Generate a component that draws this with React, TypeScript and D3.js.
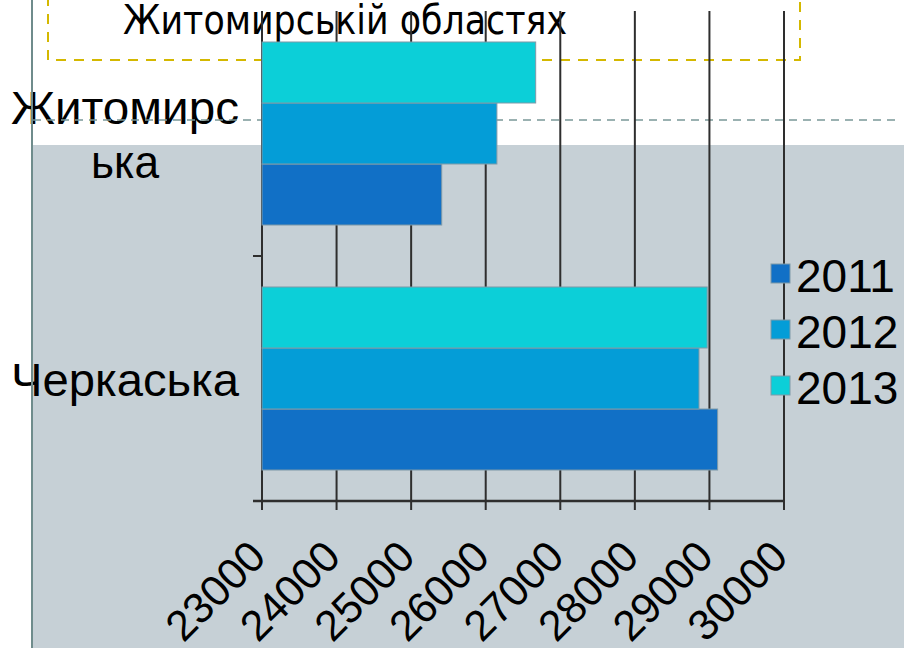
import * as d3 from 'd3';
import React from 'react';

// chart values
const categories = ['Житомирська', 'Черкаська'];
const categoryLines: string[][] = [['Житомирс', 'ька'], ['Черкаська']];
const years = ['2011', '2012', '2013'];
const values2011 = [25410, 29110];
const values2012 = [26150, 28860];
const values2013 = [26670, 28970];
const xTicks = [23000, 24000, 25000, 26000, 27000, 28000, 29000, 30000];
const titleText = 'Житомирській областях';

const colors: Record<string, string> = {
  '2011': '#1170c6',
  '2012': '#049dd7',
  '2013': '#0ccfd8'
};

const W = 904;
const H = 648;

export default function App() {
  const x = d3.scaleLinear().domain([23000, 30000]).range([262, 784]);
  const y = d3.scaleBand().domain(categories).range([11, 501]).padding(0);
  // within a category, 2011 sits at the bottom
  const yInner = d3
    .scaleBand()
    .domain(years.slice().reverse())
    .range([0, y.bandwidth()])
    .paddingInner(0)
    .paddingOuter(0.508);

  const series = [
    { year: '2011', values: values2011 },
    { year: '2012', values: values2012 },
    { year: '2013', values: values2013 }
  ];

  const sans = '"Liberation Sans", Arial, sans-serif';
  const titleFont = '"DejaVu Sans Condensed", "DejaVu Sans", Tahoma, sans-serif';
  const axisY = y.range()[1];
  const topY = y.range()[0];

  return (
    <svg
      width={W}
      height={H}
      style={{ position: 'absolute', left: 0, top: 0, display: 'block' }}>
      <rect x={0} y={0} width={W} height={H} fill="#ffffff"/>
      <rect x={33} y={145} width={W - 33} height={H - 145} fill="#c6d0d6"/>

      {/* title box */}
      <path
        d="M48,-4 L48,60 L800,60 L800,-4"
        fill="none"
        stroke="#d4b800"
        strokeWidth={2}
        strokeDasharray="10,8"/>
      <text
        x={123}
        y={34}
        fontFamily={titleFont}
        fontSize={41}
        textLength={444}
        lengthAdjust="spacingAndGlyphs"
        fill="#000">
        {titleText}
      </text>

      {/* category labels */}
      {categories.map((c, i) => {
        const lines = categoryLines[i];
        const mid = (y(c) as number) + y.bandwidth() / 2;
        const lh = 54;
        const first = mid + 17 - ((lines.length - 1) * lh) / 2;
        return (
          <g key={c}>
            {lines.map((ln, j) => (
              <text
                key={j}
                x={125}
                y={first + j * lh}
                textAnchor="middle"
                fontFamily={sans}
                fontSize={46}
                textLength={ln.length > 3 ? 228 : 68}
                lengthAdjust="spacingAndGlyphs"
                fill="#000">
                {ln}
              </text>
            ))}
          </g>
        );
      })}

      <line x1={32} x2={32} y1={0} y2={H} stroke="#6f8c8c" strokeWidth={2}/>
      <line
        x1={33}
        x2={895}
        y1={120}
        y2={120}
        stroke="#7a9898"
        strokeWidth={1.5}
        strokeDasharray="8,6"/>

      {/* grid */}
      {xTicks.map(t => (
        <line
          key={'g' + t}
          x1={x(t)}
          x2={x(t)}
          y1={topY}
          y2={axisY + 9}
          stroke="#2e2e2e"
          strokeWidth={2}/>
      ))}

      {/* bars */}
      {series.map(s => (
        <g key={s.year}>
          {categories.map((c, i) => (
            <rect
              key={c}
              x={x(23000)}
              y={(y(c) as number) + (yInner(s.year) as number)}
              width={x(s.values[i]) - x(23000)}
              height={yInner.bandwidth()}
              fill={colors[s.year]}
              stroke="#7f9aa8"
              strokeWidth={1}/>
          ))}
        </g>
      ))}

      {/* axes */}
      <line x1={253} x2={x(30000)} y1={axisY} y2={axisY} stroke="#2e2e2e" strokeWidth={2.5}/>
      <line
        x1={253}
        x2={x(23000)}
        y1={(y(categories[1]) as number)}
        y2={(y(categories[1]) as number)}
        stroke="#2e2e2e"
        strokeWidth={2}/>

      {/* x tick labels */}
      {xTicks.map(t => (
        <text
          key={'t' + t}
          transform={`translate(${x(t) + 6},${axisY + 58}) rotate(-45)`}
          textAnchor="end"
          fontFamily={sans}
          fontSize={43}
          fill="#000">
          {t}
        </text>
      ))}

      {/* legend */}
      {years.map((yr, i) => (
        <g key={yr} transform={`translate(771,${264 + i * 56})`}>
          <rect width={19} height={19} fill={colors[yr]} stroke="#7f9aa8" strokeWidth={1}/>
          <text x={25} y={28} fontFamily={sans} fontSize={46} fill="#000">
            {yr}
          </text>
        </g>
      ))}
    </svg>
  );
}
